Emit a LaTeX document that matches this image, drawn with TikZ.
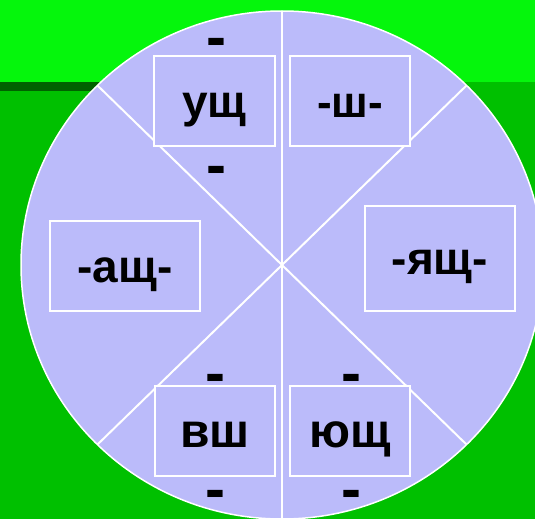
\documentclass[tikz,border=0pt]{standalone}
\usepackage{fontspec}
\setmainfont{Liberation Sans}
\definecolor{topgreen}{RGB}{5,246,12}
\definecolor{midgreen}{RGB}{0,192,0}
\definecolor{stripegreen}{RGB}{0,98,0}
\definecolor{lav}{RGB}{187,187,250}
\begin{document}
\begin{tikzpicture}[x=1pt,y=-1pt,
  box/.style={draw=white, line width=2pt, inner xsep=0pt, inner ysep=16.5pt,
    text height=45pt, text depth=12pt, font=\fontsize{46}{50}\selectfont\bfseries},
  hy/.style={anchor=base, inner sep=0pt, font=\fontsize{60}{64}\selectfont\bfseries},
  spoke/.style={draw=white, line width=2pt}]
\useasboundingbox (0,0) rectangle (535,519);
\fill[midgreen] (0,0) rectangle (535,519);
\fill[topgreen] (0,0) rectangle (535,82);
\fill[stripegreen] (0,82) rectangle (282,91);
\coordinate (c) at (282,265);
\fill[lav] (c) ellipse [x radius=261, y radius=254];
\coordinate (top) at (282,11);
\coordinate (bot) at (282,519);
\coordinate (ul) at (97.4,85.4);
\coordinate (ur) at (466.6,85.4);
\coordinate (ll) at (97.4,444.6);
\coordinate (lr) at (466.6,444.6);
\draw[spoke] (top) -- (bot);
\draw[spoke] (ul) -- (lr);
\draw[spoke] (ur) -- (ll);
\draw[white, line width=1.5pt] (c) ellipse [x radius=261, y radius=254];
% boxes
\node[box, fill=lav, minimum width=121pt] (ush) at (214.5,101) {ущ};
\node[box, fill=lav, minimum width=120pt, font=\fontsize{44}{48}\selectfont\bfseries] (sh) at (350,101) {-ш-};
\node[box, fill=lav, minimum width=150pt] (ash) at (125,266) {-ащ-};
\node[box, fill=lav, minimum width=150pt, minimum height=105pt, inner ysep=24pt] (yash) at (440,258) {-ящ-};
\node[box, fill=lav, minimum width=120pt, font=\fontsize{48}{52}\selectfont\bfseries] (vsh) at (215,431) {вш};
\node[box, fill=lav, minimum width=120pt, font=\fontsize{48}{52}\selectfont\bfseries] (yush) at (350,431) {ющ};
% dashes
\node[hy] (d1) at (216.5,57.3) {-};
\node[hy] (d2) at (216.5,185.3) {-};
\node[hy] (d3) at (215.5,393.8) {-};
\node[hy] (d4) at (215.5,509.3) {-};
\node[hy] (d5) at (351,393.8) {-};
\node[hy] (d6) at (351,509.3) {-};
\end{tikzpicture}
\end{document}
